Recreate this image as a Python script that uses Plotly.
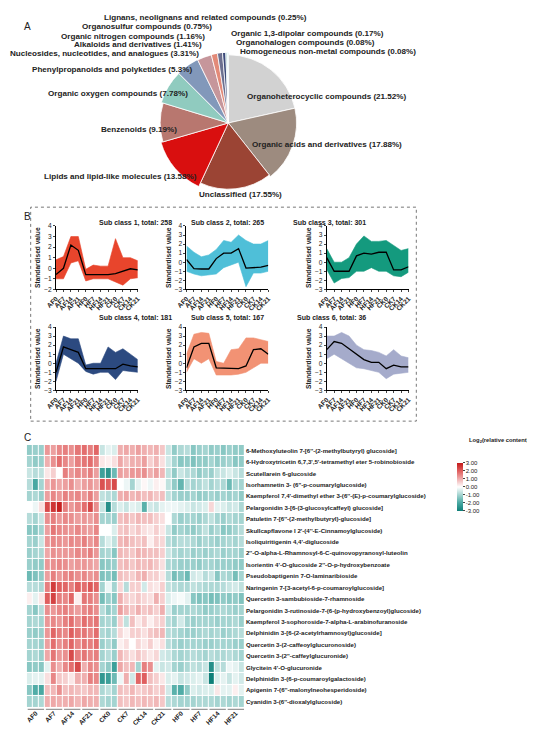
import numpy as np
import plotly.graph_objects as go

W, H = 535, 749
def px(x): return x / W
def py(y): return 1 - y / H

# ---------------- Panel A data ----------------
pie_labels = ["Organoheterocyclic compounds (21.52%)", "Organic acids and derivatives (17.88%)",
              "Unclassified (17.55%)", "Lipids and lipid-like molecules (13.58%)", "Benzenoids (9.19%)",
              "Organic oxygen compounds (7.78%)", "Phenylpropanoids and polyketides (5.3%)",
              "Nucleosides, nucleotides, and analogues (3.31%)", "Alkaloids and derivatives (1.41%)",
              "Organic nitrogen compounds (1.16%)", "Organosulfur compounds (0.75%)",
              "Lignans, neolignans and related compounds (0.25%)", "Organic 1,3-dipolar compounds (0.17%)",
              "Organohalogen compounds (0.08%)", "Homogeneous non-metal compounds (0.08%)"]
pie_pct = [21.52, 17.88, 17.55, 13.58, 9.19, 7.78, 5.3, 3.31, 1.41, 1.16, 0.75, 0.25, 0.17, 0.08, 0.08]
pie_radius = [70, 70, 68, 72, 70, 72, 74, 72, 73, 73, 74, 75, 75, 75, 75]
pie_colors = ["#d2d2d2", "#9d8b7f", "#9b4434", "#d90f0f", "#b8776f", "#90cbbf", "#8298ba",
              "#c6969b", "#e38a78", "#6c708f", "#3b4a7a", "#2b8a8a", "#55b4c8", "#2f9aa8", "#1f7f8a"]

# ---------------- Panel B data ----------------
time_labels = ["AF0", "AF7", "AF14", "AF21", "HF0", "HF7", "HF14", "HF21", "CK0", "CK7", "CK14", "CK21"]
sub_titles = ["Sub class 1, total: 258", "Sub class 2, total: 265", "Sub class 3, total: 301",
              "Sub class 4, total: 181", "Sub class 5, total: 167", "Sub class 6, total: 36"]
sub_colors = ["#e8452c", "#4fbfd8", "#149a7e", "#2c4a80", "#f29274", "#a5abcb"]
mean1 = [-0.6, 0.0, 2.2, 1.7, -0.6, -0.6, -0.6, -0.6, -0.5, -0.3, -0.05, -0.15]
mean2 = [0.3, -0.7, -0.75, -0.75, 0.4, 1.0, 1.0, 1.5, -0.65, -0.6, -0.55, -0.35]
mean3 = [0.5, -1.0, -1.0, -1.0, 0.7, 1.0, 0.9, 1.1, 1.1, -0.85, -0.85, -0.5]
mean4 = [-1.0, 1.8, 1.5, 1.2, -0.6, -0.6, -0.6, -0.6, -0.6, -0.1, -0.3, -0.4]
mean5 = [-0.5, 1.8, 2.2, 2.2, -0.5, -0.55, -0.6, -0.6, -0.3, 1.5, 1.6, 1.0]
mean6 = [1.5, 2.4, 2.2, 1.6, 1.0, 0.4, 0.1, 0.1, -0.6, -0.2, -0.4, -0.4]
upper1 = [0.8, 1.1, 3.0, 3.0, -0.1, 0.3, 0.2, 0.2, 2.8, 1.0, 1.0, 0.7]
lower1 = [-1.0, -1.0, 0.5, 0.7, -1.2, -1.0, -1.0, -1.0, -1.3, -1.6, -1.0, -0.9]
upper2 = [1.8, 1.1, 0.6, 0.8, 1.4, 2.4, 2.2, 3.0, 2.4, 2.0, 2.0, 2.4]
lower2 = [-1.0, -1.3, -1.5, -1.4, -1.3, -0.6, -0.3, 0.0, -2.7, -1.2, -1.2, -1.0]
upper3 = [1.5, 0.0, 0.0, 0.5, 2.0, 2.9, 2.3, 2.3, 2.4, 1.8, 1.3, 1.5]
lower3 = [-0.8, -2.3, -1.8, -1.7, -1.0, -1.0, -0.6, -1.0, -1.0, -1.5, -1.6, -1.1]
upper4 = [0.0, 3.0, 2.7, 2.7, -0.2, 0.0, 0.0, 1.8, 1.2, 1.6, 1.0, 0.4]
lower4 = [-2.0, 1.0, 0.5, 0.0, -0.9, -1.2, -1.0, -1.0, -1.8, -0.8, -0.9, -1.0]
upper5 = [1.0, 3.2, 3.4, 3.3, 0.2, 0.0, 1.5, 1.6, 2.8, 2.8, 2.6, 2.4]
lower5 = [-1.0, 0.5, 0.0, 0.5, -1.3, -1.3, -1.3, -1.2, -1.0, -0.5, 0.0, 0.0]
upper6 = [3.0, 3.0, 3.4, 3.0, 2.0, 1.5, 1.4, 1.2, 0.8, 1.5, 0.8, 0.6]
lower6 = [0.5, 1.0, 0.5, 0.0, -0.5, -0.6, -0.8, -1.0, -1.7, -1.2, -1.1, -1.0]
y_min = [-2, -3, -3, -3, -3, -3]

# ---------------- Panel C data ----------------
heat_groups = ["AF0", "AF7", "AF14", "AF21", "CK0", "CK7", "CK14", "CK21", "HF0", "HF7", "HF14", "HF21"]
heat_rows = ["6-Methoxyluteolin 7-[6''-(2-methylbutyryl) glucoside]",
             "6-Hydroxytricetin 6,7,3',5'-tetramethyl eter 5-robinobioside",
             "Scutellarein 6-glucoside",
             "Isorhamnetin 3- (6''-p-coumarylglucoside)",
             "Kaempferol 7,4'-dimethyl ether 3-(6''-(E)-p-coumarylglucoside)",
             "Pelargonidin 3-[6-(3-glucosylcaffeyl) glucoside]",
             "Patuletin 7-[6''-(2-methylbutyryl)-glucoside]",
             "Skullcapflavone I 2'-(4''-E-Cinnamoylglucoside)",
             "Isoliquiritigenin 4,4'-diglucoside",
             "2''-O-alpha-L-Rhamnosyl-6-C-quinovopyranosyl-luteolin",
             "Isorientin 4'-O-glucoside 2''-O-p-hydroxybenzoate",
             "Pseudobaptigenin 7-O-laminaribioside",
             "Naringenin 7-[3-acetyl-6-p-coumaroylglucoside]",
             "Quercetin 3-sambubioside-7-rhamnoside",
             "Pelargonidin 3-rutinoside-7-(6-(p-hydroxybenzoyl)glucoside)",
             "Kaempferol 3-sophoroside-7-alpha-L-arabinofuranoside",
             "Delphinidin 3-[6-(2-acetylrhamnosyl)glucoside]",
             "Quercetin 3-(2-caffeoylglucuronoside)",
             "Quercetin 3-(2''-caffeylglucuronide)",
             "Glycitein 4'-O-glucuronide",
             "Delphinidin 3-(6-p-coumaroylgalactoside)",
             "Apigenin 7-(6''-malonylneohesperidoside)",
             "Cyanidin 3-(6''-dioxalylglucoside)"]
heat_values = [
 [-1.2,-1.1,-1.1, 1.3,1.2,1.5, 1.6,1.4,1.7, 1.8,1.6,1.9, -0.6,-0.3,-0.4, 1.0,1.1,1.0, 1.2,1.0,0.9, 1.0,0.7,-0.6, -1.2,-0.9,-0.8, -1.3,-1.1,-1.0, -1.2,-1.1,-1.3, -1.1,-1.2,-1.2],
 [-1.0,-1.2,-1.1, 1.0,1.4,1.8, 1.5,1.2,1.6, 1.7,1.8,1.5, 0.3,0.2,0.4, 1.1,0.8,1.0, 1.0,1.2,0.6, 0.9,0.4,-0.5, -1.0,-1.3,-1.2, -1.4,-1.2,-1.2, -1.0,-1.2,-1.1, -1.0,-1.3,-1.2],
 [-0.6,-0.8,-0.7, 0.3,0.6,0.0, 1.6,1.3,1.5, 1.4,1.6,1.2, -2.2,-2.5,-1.6, 1.2,1.1,1.3, 1.3,1.4,1.0, 1.2,0.9,-0.7, -1.2,-0.6,-0.8, -0.9,-1.2,-1.0, -1.1,-0.7,-0.6, -0.4,-0.6,-0.8],
 [-0.8,-2.0,-1.0, 1.0,1.3,1.1, 1.2,1.4,1.0, 1.2,1.3,1.1, 2.2,2.0,2.3, 0.0,-0.2,-1.0, -0.3,0.1,-0.2, 0.2,0.1,-0.7, -1.2,-1.7,-0.8, -1.0,-0.9,-0.7, -1.0,-0.8,-0.9, -1.6,-0.9,-1.0],
 [-1.0,-0.9,-1.1, 1.2,1.5,1.3, 1.6,1.4,1.5, 1.3,1.6,1.2, -0.7,-0.8,-0.9, 1.0,1.1,0.9, 1.0,0.8,0.9, 0.7,0.8,-0.7, -1.0,-1.1,-1.1, -1.0,-1.2,-1.1, -1.0,-1.1,-1.0, -1.1,-1.0,-1.2],
 [0.0,-0.2,0.4, 2.3,2.6,2.9, 1.6,1.3,1.5, 1.8,2.3,1.4, -0.6,-2.6,-0.8, -0.4,-0.6,-0.3, -0.4,-1.8,-0.5, -0.6,-0.3,-0.2, -0.2,-0.3,-0.4, -0.6,-0.5,-0.4, 0.5,-0.3,-0.4, -0.6,-0.5,-0.9],
 [-0.8,-1.0,-0.6, 1.4,1.6,1.3, 1.5,1.4,1.2, 1.3,1.2,1.4, -1.0,-1.0,-1.1, 0.8,0.9,0.7, 0.9,0.8,0.8, 0.6,0.4,0.0, -0.9,-1.1,-1.0, -1.0,-1.1,-0.9, -0.7,-1.0,-1.1, -0.9,-1.0,-1.0],
 [-1.3,-1.3,-1.0, 1.2,1.7,1.5, 1.4,1.3,1.5, 1.3,1.2,1.5, 0.0,0.0,-0.4, 0.7,0.8,0.5, 0.7,0.4,0.3, 0.6,0.3,-0.6, -1.2,-1.0,-1.1, -1.2,-1.0,-0.7, -1.1,-0.9,-1.3, -1.2,-1.0,-0.8],
 [-1.0,-1.1,-0.6, 1.3,1.5,1.4, 1.3,1.5,1.4, 1.6,1.3,1.5, -0.8,-0.4,-0.7, 0.9,1.0,0.8, 0.7,0.8,0.2, 0.6,0.5,-0.8, -1.0,-0.8,-0.8, -0.9,-1.1,-0.9, -1.0,-1.1,-1.0, -0.9,-1.0,-0.8],
 [-1.1,-1.0,-0.9, 1.1,1.4,1.3, 1.3,1.3,1.5, 1.4,1.6,1.3, -1.0,-0.9,-1.3, 0.9,0.8,0.7, 1.0,0.9,0.8, 0.8,0.6,-0.6, -0.9,-1.0,-0.9, -1.1,-1.0,-1.1, -1.0,-0.9,-1.1, -1.0,-1.0,-1.1],
 [-1.1,-1.2,-1.2, 1.3,1.4,1.5, 1.4,1.2,1.3, 1.3,1.2,1.1, -1.3,-1.2,-1.1, 0.8,0.9,0.7, 0.9,0.8,0.9, 0.7,0.4,-0.9, -1.0,-1.1,-1.1, -1.1,-1.2,-1.0, -1.0,-1.1,-1.1, -1.1,-1.2,-1.2],
 [-1.6,-1.4,-1.2, 1.2,1.6,1.3, 1.5,1.6,1.4, 1.5,1.3,1.4, -1.4,-1.3,-1.5, 0.8,0.7,0.6, 0.9,1.0,0.6, 0.6,0.3,-0.8, -1.5,-1.3,-1.6, -0.5,-0.4,-0.8, -0.6,-1.3,-0.9, -1.0,-1.5,-1.0],
 [-0.8,-0.8,-0.9, 1.6,2.5,2.0, 1.9,1.6,2.0, 1.8,2.1,1.9, -1.0,-0.2,-1.0, 0.5,-0.8,0.6, 0.6,-0.5,0.4, 0.3,0.6,-0.7, -0.8,-0.9,-0.9, -0.7,-0.8,-0.9, -0.9,-0.9,-0.8, -0.6,-0.5,-0.7],
 [0.2,-0.3,0.3, 2.0,2.4,1.6, 1.5,1.9,0.2, 1.7,1.6,1.4, -1.5,-1.1,-1.3, 1.0,0.6,0.5, 0.7,0.5,0.4, 1.0,0.6,-0.4, -0.2,-0.1,-0.3, -1.3,-1.4,-1.3, -1.5,-1.4,-1.2, -1.3,-1.2,-1.4],
 [-1.0,-1.3,-0.8, 1.4,1.3,1.5, 1.6,1.4,1.2, 1.5,1.6,1.4, -0.8,-1.2,-1.0, 1.2,0.9,0.7, 1.0,0.7,0.8, 0.6,1.0,-0.5, -1.1,-1.0,-1.0, -0.9,-1.0,-1.2, -1.1,-1.0,-0.9, -1.0,-1.1,-1.0],
 [-1.0,-0.9,-1.0, 1.3,1.5,1.3, 1.6,1.8,1.4, 1.8,1.6,1.7, -1.0,-0.9,-1.1, 0.6,-0.7,0.8, 0.3,0.6,0.2, 0.5,0.6,-0.8, -1.0,-0.5,-1.0, -1.1,-1.0,-1.0, -1.0,-1.1,-1.0, -1.0,-0.9,-1.1],
 [-1.1,-1.2,-1.1, 1.3,1.9,1.6, 1.5,2.0,1.7, 1.7,1.5,1.8, -0.9,-1.0,-0.8, 0.5,0.2,0.6, 0.6,0.4,0.7, 0.8,0.9,-0.8, -0.9,-1.0,-1.1, -1.1,-1.0,-0.9, -1.0,-0.9,-1.1, -1.0,-0.9,-0.8],
 [-1.0,-1.0,-1.1, 1.2,1.8,1.4, 1.6,1.9,1.5, 1.7,1.6,1.8, -1.1,-0.9,-1.2, 0.2,0.4,0.0, 0.5,0.3,0.6, 0.2,0.4,-0.8, -1.0,-1.1,-1.0, -1.0,-1.0,-1.1, -1.1,-1.0,-1.0, -1.0,-1.1,-1.1],
 [-1.0,-0.9,-1.1, 1.1,1.7,1.3, 1.4,2.3,1.6, 1.7,1.5,1.6, -1.0,-0.8,-1.1, 0.9,0.6,0.4, 0.7,0.5,0.3, 0.5,-0.5,-0.6, -0.9,-1.0,-0.9, -0.8,-0.9,-1.0, -0.8,-0.9,-0.9, -0.8,-0.9,-1.0],
 [-1.3,-1.2,-1.3, -0.3,1.4,1.0, 1.5,1.8,2.3, 1.0,1.5,1.4, -1.0,-1.2,-2.2, 1.1,0.8,0.9, -1.0,1.6,1.4, -0.3,-0.6,-0.5, -1.0,-1.1,-0.9, -0.7,-0.8,-0.6, -2.6,-0.7,-0.8, -0.2,-0.3,-0.6],
 [-0.4,-0.3,-0.3, 0.4,1.5,0.7, 0.6,0.3,1.0, 1.0,1.6,1.5, -2.4,-2.2,-1.6, -0.2,1.0,-0.5, 1.9,2.0,0.8, 0.6,0.3,-0.4, -0.3,-0.6,-0.5, -0.4,-0.3,-0.6, -3.0,-0.4,-0.3, -0.6,-0.3,-0.5],
 [-1.3,-1.9,-2.0, 0.8,0.9,1.4, 0.8,0.9,0.8, 0.7,0.9,0.9, -0.9,-0.7,-1.0, 0.8,0.7,0.9, 0.6,0.7,0.8, 0.6,0.7,-0.5, -1.8,-1.9,-1.2, -0.4,-0.5,-0.4, -0.4,0.3,-0.3, -0.3,0.2,-0.3],
 [-1.0,-1.0,-0.9, 1.0,1.1,1.0, 1.0,1.1,0.9, 1.1,1.0,1.0, -0.9,-1.0,-1.0, 0.8,0.7,0.9, 0.8,0.9,0.8, 0.9,0.7,-0.8, -0.9,-1.0,-1.0, -1.0,-0.9,-0.9, -0.9,-1.0,-0.9, -1.0,-0.9,-1.0],
]

FONT = "Liberation Sans"
TXT = "#222"
fig = go.Figure()
annotations = []
shapes = []

# ---------------- Panel A: petal pie (barpolar) ----------------
pct = np.array(pie_pct)
widths = pct / pct.sum() * 360
centers = np.cumsum(widths) - widths / 2
fig.add_trace(go.Barpolar(r=pie_radius, theta=centers, width=widths,
                          marker=dict(color=pie_colors, line=dict(color="white", width=0.8)),
                          subplot="polar", showlegend=False, hoverinfo="text", hovertext=pie_labels))
cx, cy, R = 215, 112, 72
fig.update_layout(polar=dict(
    domain=dict(x=[px(cx - R), px(cx + R)], y=[py(cy + R), py(cy - R)]),
    bgcolor="rgba(0,0,0,0)",
    radialaxis=dict(visible=False, range=[0, R]),
    angularaxis=dict(visible=False, direction="clockwise", rotation=90)))

pie_label_pos = [(232, 85, "left"), (237, 134, "left"), (227, 184, "center"), (185, 166, "right"),
                 (164, 119, "right"), (176, 82, "right"), (180, 58, "right"), (187, 42, "right"),
                 (190, 33, "right"), (193, 25, "right"), (200, 15, "right"), (192, 6, "center"),
                 (216, 22, "left"), (221, 31, "left"), (225, 40, "left")]
for lab, (x, y, a) in zip(pie_labels, pie_label_pos):
    annotations.append(dict(x=px(x), y=py(y), xref="paper", yref="paper", text="<b>" + lab + "</b>",
                            showarrow=False, xanchor=a, yanchor="middle",
                            font=dict(family=FONT, size=8.1, color=TXT)))
annotations.append(dict(x=px(3), y=py(7), xref="paper", yref="paper", text="A", showarrow=False,
                        xanchor="left", font=dict(family=FONT, size=10, color=TXT)))

# ---------------- Panel B: line panels ----------------
means = [mean1, mean2, mean3, mean4, mean5, mean6]
uppers = [upper1, upper2, upper3, upper4, upper5, upper6]
lowers = [lower1, lower2, lower3, lower4, lower5, lower6]
col_px = [(38, 122), (172, 256), (316, 400)]
row_px = [(216, 280), (318, 382)]
xi = list(range(len(time_labels)))
for k in range(6):
    r, c = divmod(k, 3)
    ax = k + 1
    xa, ya = ("x%d" % ax, "y%d" % ax)
    fig.add_trace(go.Scatter(x=xi, y=uppers[k], mode="lines", line=dict(color=sub_colors[k], width=0.6),
                             xaxis=xa, yaxis=ya, showlegend=False, hoverinfo="skip"))
    fig.add_trace(go.Scatter(x=xi, y=lowers[k], mode="lines", line=dict(color=sub_colors[k], width=0.6),
                             fill="tonexty", fillcolor=sub_colors[k], opacity=0.75,
                             xaxis=xa, yaxis=ya, showlegend=False, hoverinfo="skip"))
    fig.add_trace(go.Scatter(x=xi, y=means[k], mode="lines", line=dict(color="black", width=1.3),
                             xaxis=xa, yaxis=ya, showlegend=False))
    x0, x1 = col_px[c]
    y0, y1 = row_px[r]
    fig.layout["xaxis%d" % ax] = dict(domain=[px(x0), px(x1)], range=[0, 11], anchor=ya,
                                      tickvals=xi, ticktext=["<b>%s</b>" % t for t in time_labels],
                                      tickangle=-45, showline=True, linecolor="black", linewidth=1,
                                      ticks="outside", ticklen=2, showgrid=False, zeroline=False,
                                      tickfont=dict(family=FONT, size=6.6, color=TXT))
    fig.layout["yaxis%d" % ax] = dict(domain=[py(y1), py(y0)], range=[y_min[k], 4], anchor=xa,
                                      dtick=1, showline=True, linecolor="black", linewidth=1,
                                      ticks="outside", ticklen=2, showgrid=False, zeroline=False,
                                      tickfont=dict(family=FONT, size=6.6, color=TXT),
                                      title=dict(text="<b>Standardised value</b>", standoff=2,
                                                 font=dict(family=FONT, size=6.6, color=TXT)))
    annotations.append(dict(x=px((x0 + x1) / 2), y=py(y0 - 9), xref="paper", yref="paper",
                            text="<b>" + sub_titles[k] + "</b>", showarrow=False,
                            font=dict(family=FONT, size=7, color=TXT)))
shapes.append(dict(type="rect", xref="paper", yref="paper", x0=px(12), x1=px(408), y0=py(413), y1=py(197),
                   line=dict(color="#555", width=0.8, dash="dot")))
annotations.append(dict(x=px(3), y=py(199), xref="paper", yref="paper", text="B", showarrow=False,
                        xanchor="left", font=dict(family=FONT, size=10, color=TXT)))

# ---------------- Panel C: heatmap ----------------
nrep = 3
hx = list(range(len(heat_groups) * nrep))
fig.add_trace(go.Heatmap(z=heat_values, x=hx, y=list(range(len(heat_rows))), xaxis="x7", yaxis="y7",
                         zmin=-3, zmax=3, xgap=1, ygap=1,
                         colorscale=[[0, "#0f7f78"], [0.17, "#4aa9a3"], [0.5, "#ffffff"],
                                     [0.83, "#e06060"], [1, "#c41a1a"]],
                         colorbar=dict(x=px(440), xanchor="left", y=py(455), yanchor="top",
                                       len=48 / H, lenmode="fraction", thickness=6, outlinewidth=0,
                                       tickvals=[3, 2, 1, 0, -1, -2, -3],
                                       ticktext=["3.00", "2.00", "1.00", "0.00", "-1.00", "-2.00", "-3.00"],
                                       ticks="outside", ticklen=2, ypad=0,
                                       tickfont=dict(family=FONT, size=6, color=TXT))))
fig.update_layout(
    xaxis7=dict(domain=[px(8), px(232)], anchor="y7", range=[-0.5, len(hx) - 0.5],
                tickvals=[g * nrep + 1 for g in range(len(heat_groups))],
                ticktext=["<b>%s</b>" % g for g in heat_groups],
                tickangle=-45, showgrid=False, zeroline=False, ticks="", showline=False,
                tickfont=dict(family=FONT, size=6.5, color=TXT)),
    yaxis7=dict(domain=[py(702), py(437)], anchor="x7", range=[len(heat_rows) - 0.5, -0.5],
                side="right", tickvals=list(range(len(heat_rows))),
                ticktext=["<b>%s</b>" % t for t in heat_rows],
                showgrid=False, zeroline=False, ticks="",
                tickfont=dict(family=FONT, size=6.1, color=TXT)))
for g in range(len(heat_groups)):
    shapes.append(dict(type="line", xref="x7", yref="paper", x0=g * nrep - 0.35, x1=g * nrep + 2.35,
                       y0=py(704), y1=py(704), line=dict(color="#999", width=1.2)))
annotations.append(dict(x=px(460), y=py(433), xref="paper", yref="paper", xanchor="left",
                        text="<b>Log<sub>2</sub>(relative content)</b>", showarrow=False,
                        font=dict(family=FONT, size=5.8, color=TXT)))
annotations.append(dict(x=px(3), y=py(430), xref="paper", yref="paper", text="C", showarrow=False,
                        xanchor="left", font=dict(family=FONT, size=10, color=TXT)))

fig.update_layout(width=W, height=H, margin=dict(l=0, r=0, t=0, b=0),
                  paper_bgcolor="white", plot_bgcolor="white",
                  annotations=annotations, shapes=shapes, showlegend=False,
                  font=dict(family=FONT))
fig.write_html("out.html")
